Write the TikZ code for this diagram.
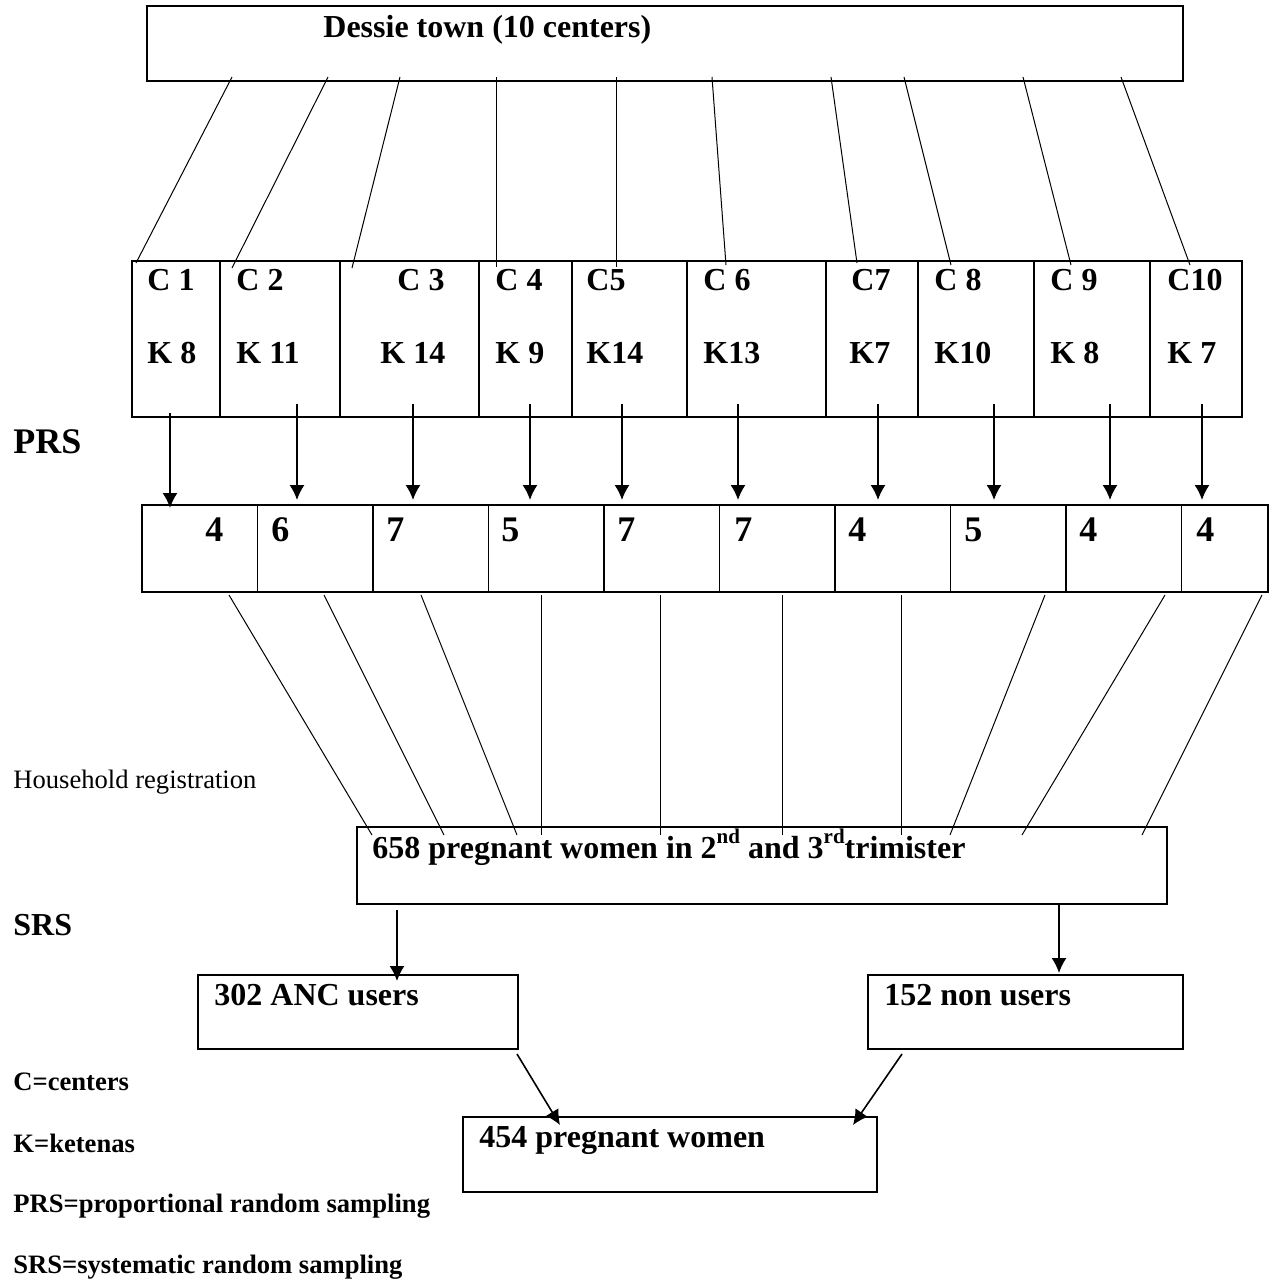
\documentclass[tikz,border=0pt]{standalone}
\usepackage{fontspec}
\setmainfont{Liberation Serif}
\usetikzlibrary{calc,positioning,arrows.meta}

\newcommand{\suptxt}[1]{\raisebox{0.45em}{\fontsize{10.5}{12}\selectfont #1}}

\begin{document}
\begin{tikzpicture}[x=0.5pt, y=-0.5pt, >={Latex[length=7.5pt,width=7.5pt]},
    block/.style={
            draw,
            rectangle,
            line width=0.6pt,
            anchor=north west,
            inner sep=0pt,
            outer sep=0pt,
            minimum height=37.5pt
        },
        cell/.style={block, minimum height=78pt},
        sample/.style={block, minimum height=43.5pt, minimum width=57.75pt},
        txt/.style={anchor=base west, inner sep=0pt, font=\fontsize{16}{19}\selectfont\bfseries},
        numtxt/.style={txt, font=\fontsize{18}{21}\selectfont\bfseries},
        keytxt/.style={txt, font=\fontsize{13.3}{16}\selectfont\bfseries},
        note/.style={txt, font=\fontsize{13.3}{16}\selectfont},
        link/.style={line width=0.5pt},
        arr/.style={->, line width=0.8pt}
]
    \useasboundingbox (0,0) rectangle (1275,1281);

    % town
    \node [block, minimum width=518pt] (town) at (147,6) {};
    \node [txt] (townlbl) at ($(town.north west)+(176,31)$) {Dessie town (10 centers)};

    % centers
    \node [cell, minimum width=44pt] (c1) at (132,261) {};
    \node [cell, minimum width=60pt, right=0pt of c1] (c2) {};
    \node [cell, minimum width=69.5pt, right=0pt of c2] (c3) {};
    \node [cell, minimum width=46.5pt, right=0pt of c3] (c4) {};
    \node [cell, minimum width=57.5pt, right=0pt of c4] (c5) {};
    \node [cell, minimum width=69.5pt, right=0pt of c5] (c6) {};
    \node [cell, minimum width=46pt, right=0pt of c6] (c7) {};
    \node [cell, minimum width=58pt, right=0pt of c7] (c8) {};
    \node [cell, minimum width=58pt, right=0pt of c8] (c9) {};
    \node [cell, minimum width=46pt, right=0pt of c9] (c10) {};

    \node [txt] (lc1) at ($(c1.north west)+(15,29)$) {C 1};
    \node [txt] (lk1) at ($(c1.north west)+(15,102)$) {K 8};
    \node [txt] (lc2) at ($(c2.north west)+(16,29)$) {C 2};
    \node [txt] (lk2) at ($(c2.north west)+(16,102)$) {K 11};
    \node [txt] (lc3) at ($(c3.north west)+(57,29)$) {C 3};
    \node [txt] (lk3) at ($(c3.north west)+(40,102)$) {K 14};
    \node [txt] (lc4) at ($(c4.north west)+(16,29)$) {C 4};
    \node [txt] (lk4) at ($(c4.north west)+(16,102)$) {K 9};
    \node [txt] (lc5) at ($(c5.north west)+(14,29)$) {C5};
    \node [txt] (lk5) at ($(c5.north west)+(14,102)$) {K14};
    \node [txt] (lc6) at ($(c6.north west)+(16,29)$) {C 6};
    \node [txt] (lk6) at ($(c6.north west)+(16,102)$) {K13};
    \node [txt] (lc7) at ($(c7.north west)+(25,29)$) {C7};
    \node [txt] (lk7) at ($(c7.north west)+(23,102)$) {K7};
    \node [txt] (lc8) at ($(c8.north west)+(16,29)$) {C 8};
    \node [txt] (lk8) at ($(c8.north west)+(16,102)$) {K10};
    \node [txt] (lc9) at ($(c9.north west)+(16,29)$) {C 9};
    \node [txt] (lk9) at ($(c9.north west)+(16,102)$) {K 8};
    \node [txt] (lc10) at ($(c10.north west)+(17,29)$) {C10};
    \node [txt] (lk10) at ($(c10.north west)+(17,102)$) {K 7};

    \draw [link] ($(town.south west)+(85,-4)$) -- ($(c1.north west)+(4,2)$);
    \draw [link] ($(town.south west)+(181,-4)$) -- ($(c2.north west)+(12,7)$);
    \draw [link] ($(town.south west)+(253,-4)$) -- ($(c3.north west)+(12,7)$);
    \draw [link] ($(town.south west)+(349,-4)$) -- ($(c4.north west)+(17,6)$);
    \draw [link] ($(town.south west)+(469,-4)$) -- ($(c5.north west)+(44,6)$);
    \draw [link] ($(town.south west)+(565,-4)$) -- ($(c6.north west)+(39,4)$);
    \draw [link] ($(town.south west)+(684,-4)$) -- ($(c7.north west)+(31,2)$);
    \draw [link] ($(town.south west)+(757,-4)$) -- ($(c8.north west)+(33,4)$);
    \draw [link] ($(town.south west)+(876,-4)$) -- ($(c9.north west)+(37,4)$);
    \draw [link] ($(town.south west)+(974,-4)$) -- ($(c10.north west)+(40,4)$);

    % PRS samples
    \node [sample] (s1) at (142,505) {};
    \node [sample, right=0pt of s1] (s2) {};
    \node [sample, right=0pt of s2] (s3) {};
    \node [sample, right=0pt of s3] (s4) {};
    \node [sample, right=0pt of s4] (s5) {};
    \node [sample, right=0pt of s5] (s6) {};
    \node [sample, right=0pt of s6] (s7) {};
    \node [sample, right=0pt of s7] (s8) {};
    \node [sample, right=0pt of s8] (s9) {};
    \node [sample, minimum width=43.25pt, right=0pt of s9] (s10) {};

    \node [numtxt] (n1) at ($(s1.north west)+(63,36)$) {4};
    \node [numtxt] (n2) at ($(s2.north west)+(13.5,36)$) {6};
    \node [numtxt] (n3) at ($(s3.north west)+(13,36)$) {7};
    \node [numtxt] (n4) at ($(s4.north west)+(12.5,36)$) {5};
    \node [numtxt] (n5) at ($(s5.north west)+(13,36)$) {7};
    \node [numtxt] (n6) at ($(s6.north west)+(14.5,36)$) {7};
    \node [numtxt] (n7) at ($(s7.north west)+(13,36)$) {4};
    \node [numtxt] (n8) at ($(s8.north west)+(13.5,36)$) {5};
    \node [numtxt] (n9) at ($(s9.north west)+(13,36)$) {4};
    \node [numtxt] (n10) at ($(s10.north west)+(14.5,36)$) {4};

    \draw [arr] ($(c1.south)+(-6,-4)$) -- ($(s1.north)+(-29.75,3)$);
    \draw [arr] ($(c2.south)+(17,-13)$) -- ($(s2.north)+(-18.25,-5)$);
    \draw [arr] ($(c3.south)+(3.5,-13)$) -- ($(s3.north)+(-17.75,-5)$);
    \draw [arr] ($(c4.south)+(4.5,-13)$) -- ($(s4.north)+(-16.25,-5)$);
    \draw [arr] ($(c5.south)+(-7.5,-13)$) -- ($(s5.north)+(-39.75,-5)$);
    \draw [arr] ($(c6.south)+(-18.5,-13)$) -- ($(s6.north)+(-39.25,-5)$);
    \draw [arr] ($(c7.south)+(6,-13)$) -- ($(s7.north)+(-14.75,-5)$);
    \draw [arr] ($(c8.south)+(18,-13)$) -- ($(s8.north)+(-14.25,-5)$);
    \draw [arr] ($(c9.south)+(18,-13)$) -- ($(s9.north)+(-13.75,-5)$);
    \draw [arr] ($(c10.south)+(6,-13)$) -- ($(s10.north)+(-22.75,-5)$);

    % household registration
    \node [block, minimum width=405pt, minimum height=38.5pt] (pw) at (357,827) {};
    \node [txt] (pwlbl) at ($(pw.north west)+(15,31)$) {658 pregnant women in 2\suptxt{nd} and 3\suptxt{rd}trimister};

    \draw [link] ($(s1.south west)+(87,3)$) -- ($(pw.north west)+(15,8)$);
    \draw [link] ($(s2.south west)+(66.5,3)$) -- ($(pw.north west)+(87,8)$);
    \draw [link] ($(s3.south west)+(48,3)$) -- ($(pw.north west)+(160,8)$);
    \draw [link] ($(s4.south west)+(52.5,3)$) -- ($(pw.north west)+(184,8)$);
    \draw [link] ($(s5.south west)+(56,3)$) -- ($(pw.north west)+(303,8)$);
    \draw [link] ($(s6.south west)+(62.5,3)$) -- ($(pw.north west)+(425,8)$);
    \draw [link] ($(s7.south west)+(66,3)$) -- ($(pw.north west)+(544,8)$);
    \draw [link] ($(s8.south west)+(94.5,3)$) -- ($(pw.north west)+(593,8)$);
    \draw [link] ($(s9.south west)+(99,3)$) -- ($(pw.north west)+(665,8)$);
    \draw [link] ($(s10.south west)+(80.5,3)$) -- ($(pw.north west)+(785,8)$);

    % SRS
    \node [block, minimum width=160pt, minimum height=37pt] (anc) at (198,975) {};
    \node [txt] (anclbl) at ($(anc.north west)+(16,30)$) {302 ANC users};
    \node [block, minimum width=157.5pt, minimum height=37pt] (non) at (868,975) {};
    \node [txt] (nonlbl) at ($(non.north west)+(16,30)$) {152 non users};
    \node [block, minimum width=207pt] (all) at (463,1117) {};
    \node [txt] (alllbl) at ($(all.north west)+(16,30)$) {454 pregnant women};

    \draw [arr] ($(pw.south west)+(40,6)$) -- ($(anc.north west)+(199,6)$);
    \draw [arr] ($(pw.south east)+(-108,0)$) -- ($(non.north west)+(191,-2)$);
    \draw [arr] ($(anc.south east)+(-1,5)$) -- ($(all.north west)+(97,8)$);
    \draw [arr] ($(non.south west)+(34,5)$) -- ($(all.north east)+(-24,8)$);

    % side texts
    \node [numtxt] (prs) at (13,453) {PRS};
    \node [note] (hh) at (13,788) {Household registration};
    \node [txt] (srs) at (13,935) {SRS};
    \node [keytxt] (keyc) at (13,1090) {C=centers};
    \node [keytxt] (keyk) at (13,1152) {K=ketenas};
    \node [keytxt] (keyprs) at (13,1212) {PRS=proportional random sampling};
    \node [keytxt] (keysrs) at (13,1273) {SRS=systematic random sampling};
\end{tikzpicture}
\end{document}
